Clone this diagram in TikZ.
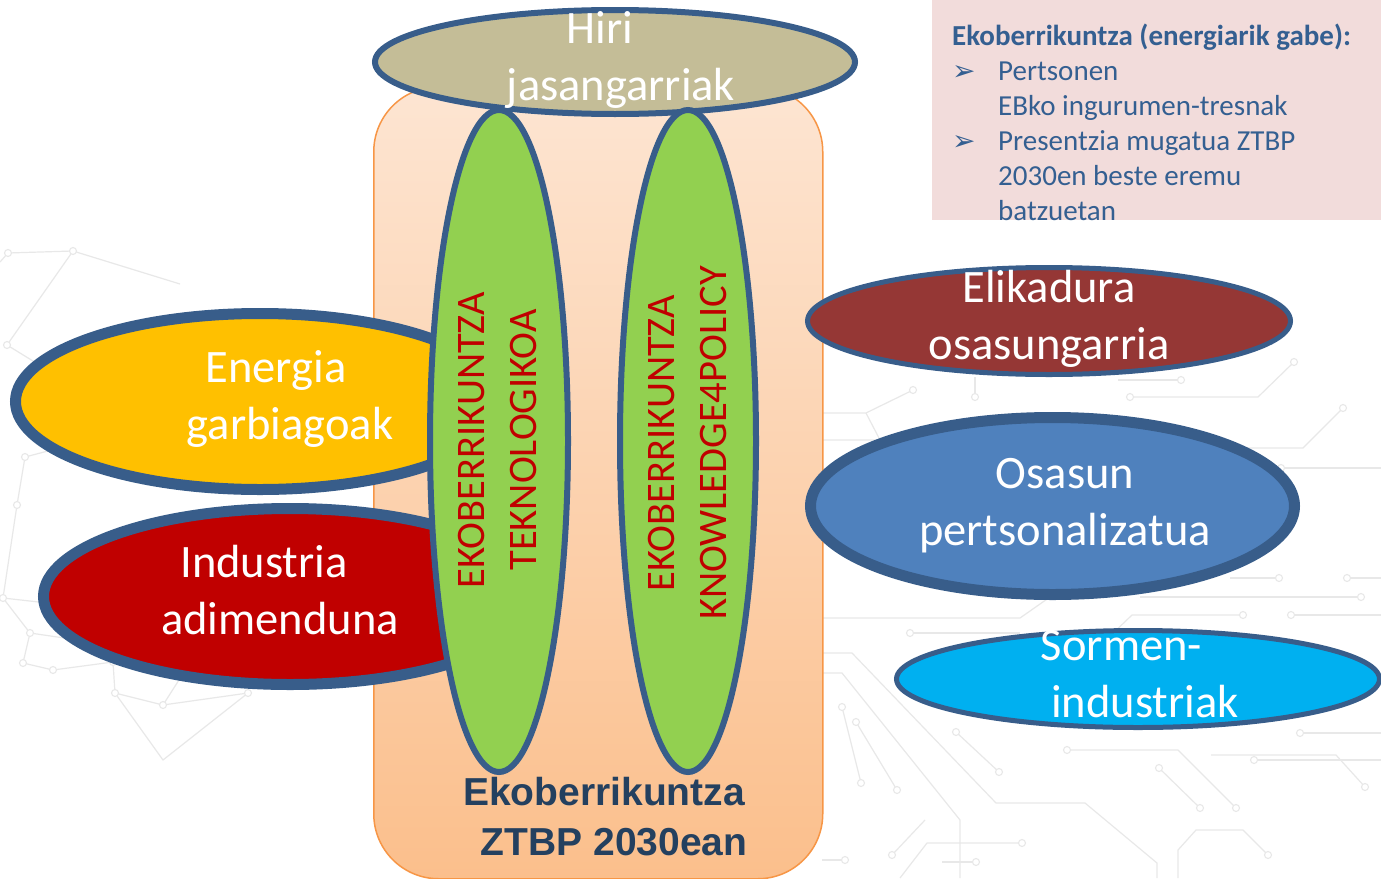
\documentclass[tikz,border=0pt]{standalone}
\usepackage{fontspec}
\setmainfont{Carlito}
\newfontfamily\arialfont{Liberation Sans}
\newfontfamily\dejavufont{DejaVu Sans}
\usetikzlibrary{shapes.geometric}
\definecolor{edgeblue}{HTML}{385D8A}
\definecolor{hiricol}{HTML}{C4BD97}
\definecolor{energiacol}{HTML}{FFC000}
\definecolor{industriacol}{HTML}{C00000}
\definecolor{elikacol}{HTML}{953735}
\definecolor{osasuncol}{HTML}{4F81BD}
\definecolor{sormencol}{HTML}{00B0F0}
\definecolor{greencol}{HTML}{92D050}
\definecolor{redtext}{HTML}{C00000}
\definecolor{pinkbox}{HTML}{F2DCDB}
\definecolor{boxblue}{HTML}{345F91}
\definecolor{bottomblue}{HTML}{24405F}
\definecolor{frametop}{HTML}{FDE5D2}
\definecolor{framebot}{HTML}{FBBF8C}
\definecolor{frameedge}{HTML}{F79646}
\definecolor{bggray}{HTML}{E8E8E8}
\newcommand{\twoline}[2]{\begin{tabular}[t]{@{}c@{}}#1\\#2\end{tabular}}
\begin{document}
\begin{tikzpicture}[x=1pt,y=-1pt,
  bgl/.style={draw=bggray, line width=1.2pt, line join=round},
  bgc/.style={draw=bggray, line width=1.1pt, fill=white},
  blob/.style={ellipse, draw=edgeblue, inner sep=0pt, outer sep=0pt},
  lbl/.style={anchor=base, inner sep=0pt, text=white, font=\fontsize{46.5}{57.5}\selectfont},
  rot/.style={rotate=90, anchor=base, inner sep=0pt, text=redtext, font=\fontsize{40.5}{52.5}\selectfont},
  boxtxt/.style={anchor=base west, inner sep=0pt, text=boxblue, font=\fontsize{29}{35}\selectfont},
  bullet/.style={anchor=base west, inner sep=0pt, text=boxblue, font=\dejavufont\fontsize{28}{28}\selectfont}]
\useasboundingbox (0,0) rectangle (1381,878);
\fill[white] (0,0) rectangle (1381,878);

% ---------- faint background network (left) ----------
\draw[bgl] (0,262)--(8,253)--(73,251)--(180,284);
\draw[bgl] (73,251)--(7,345);
\draw[bgl] (7,345)--(140,427)--(25,457)--(17,505)--(3,598)--(172,617)--(200,647)--(213,662)--(247,652)--(248,693)--(163,705)--(115,693)--(113,662)--(53,670)--(23,663)--(30,633)--(78,640)--(172,617);
\draw[bgl] (172,617)--(238,623)--(287,623)--(280,613)--(300,580);
\draw[bgl] (200,647)--(163,705);
\draw[bgl] (78,640)--(113,662);
\draw[bgl] (3,598)--(30,633);
\draw[bgl] (115,693)--(163,760)--(248,693);
\draw[bgl] (238,623)--(213,662);
\draw[bgl] (343,680)--(373,680);
\draw[bgl] (350,627)--(373,640);
\foreach \p in {(8,253),(73,251),(7,345),(25,457),(17,505),(3,598),(172,617),(200,647),(213,662),(247,652),(248,693),(163,705),(115,693),(113,662),(53,670),(23,663),(30,633),(78,640),(238,623),(287,623),(280,613),(300,580),(343,680),(350,627)}
  \draw[bgc] \p circle[radius=3.5];

% ---------- faint background circuit (right) ----------
\draw[bgl] (1294,362)--(1258,397)--(1130,397);
\draw[bgl] (1343,408)--(1303,448)--(1205,448);
\draw[bgl] (1281,468)--(1381,468);
\draw[bgl] (1181,380)--(1118,380);
\draw[bgl] (822,413)--(866,413)--(913,390);
\draw[bgl] (975,397)--(975,377);
\draw[bgl] (866,413)--(880,440)--(822,440);
\draw[bgl] (1230,578)--(1279,578);
\draw[bgl] (1347,578)--(1381,578);
\draw[bgl] (1140,597)--(1361,597);
\draw[bgl] (1243,615)--(1132,615)--(1085,660);
\draw[bgl] (1291,615)--(1381,615);
\draw[bgl] (910,633)--(1020,633);
\draw[bgl] (822,618)--(1020,618)--(1060,590);
\draw[bgl] (822,653)--(852,653)--(996,803)--(1085,803)--(1157,863)--(1157,878);
\draw[bgl] (822,673)--(842,673)--(960,820)--(960,878);
\draw[bgl] (999,772)--(956,732);
\draw[bgl] (897,790)--(856,722);
\draw[bgl] (861,783)--(842,707);
\draw[bgl] (1200,808)--(1159,768);
\draw[bgl] (1236,808)--(1178,750)--(1067,750);
\draw[bgl] (1211,755)--(1336,755)--(1365,787);
\draw[bgl] (1022,843)--(927,843)--(900,878);
\draw[bgl] (976,862)--(942,862);
\draw[bgl] (1268,855)--(1243,830)--(1196,830)--(1178,850)--(1178,878);
\draw[bgl] (1300,733)--(1381,733);
\draw[bgl] (1254,760)--(1381,760);
\draw[bgl] (822,860)--(845,860);
\draw[bgl] (892,855)--(925,820);
\foreach \p in {(1294,362),(1130,397),(1343,408),(1281,468),(1181,380),(913,390),(975,397),(1279,578),(1347,578),(1361,597),(1243,615),(1291,615),(910,633),(999,772),(956,732),(897,790),(856,722),(861,783),(842,707),(1200,808),(1159,768),(1236,808),(1067,750),(1365,787),(1022,843),(976,862),(1268,855),(892,855),(1300,733),(1254,760),(845,860)}
  \draw[bgc] \p circle[radius=3.5];

% ---------- info box ----------
\node[fill=pinkbox, minimum width=449pt, minimum height=220pt, anchor=north west, inner sep=0pt] (infobox) at (932,0) {};
\node[boxtxt, font=\bfseries\fontsize{29}{35}\selectfont] (boxtitle) at (952,45) {Ekoberrikuntza (energiarik gabe):};
\node[bullet] (bul1) at (952,80) {➢};
\node[boxtxt] (l1) at (998,80) {Pertsonen};
\node[boxtxt] (l2) at (998,115) {EBko ingurumen-tresnak};
\node[bullet] (bul2) at (952,150) {➢};
\node[boxtxt] (l3) at (998,150) {Presentzia mugatua ZTBP};
\node[boxtxt] (l4) at (998,185) {2030en beste eremu};
\node[boxtxt] (l5) at (998,220) {batzuetan};

% ---------- central frame ----------
\node[draw=frameedge, line width=1.5pt, rounded corners=65pt, top color=frametop, bottom color=framebot,
      minimum width=449pt, minimum height=792pt, anchor=north west, inner sep=0pt] (frame) at (373,86) {};

% ---------- ellipses ----------
\node[blob, line width=6pt, fill=hiricol, minimum width=480pt, minimum height=104pt] (hiri) at (615,62) {};
\node[blob, line width=11pt, fill=energiacol, minimum width=489pt, minimum height=176pt] (energia) at (260,401.5) {};
\node[blob, line width=11pt, fill=industriacol, minimum width=493pt, minimum height=176pt] (industria) at (290,596.5) {};
\node[blob, line width=5pt, fill=elikacol, minimum width=483pt, minimum height=107pt] (elika) at (1049,321) {};
\node[blob, line width=11pt, fill=osasuncol, minimum width=484pt, minimum height=177pt] (osasun) at (1052.5,506) {};
\node[blob, line width=5pt, fill=sormencol, minimum width=483pt, minimum height=97pt] (sormen) at (1138,679) {};
\node[blob, line width=6pt, fill=greencol, minimum width=138pt, minimum height=662pt] (greenL) at (499,441) {};
\node[blob, line width=6pt, fill=greencol, minimum width=136pt, minimum height=662pt] (greenR) at (688,441) {};

% ---------- labels ----------
\node[lbl] (hiritxt) at (621,43) {\twoline{Hiri\hspace*{42pt}}{jasangarriak}};
\node[lbl] (energiatxt) at (290,382) {\twoline{Energia\hspace*{28pt}}{garbiagoak}};
\node[lbl] (industriatxt) at (280,577) {\twoline{Industria\hspace*{32pt}}{adimenduna}};
\node[lbl] (elikatxt) at (1049,302) {\twoline{Elikadura}{osasungarria}};
\node[lbl] (osasuntxt) at (1065,488) {\twoline{Osasun}{pertsonalizatua}};
\node[lbl] (sormentxt) at (1145,660) {\twoline{Sormen-\hspace*{47pt}}{industriak}};

\node[rot] (teknotxt) at (484,440) {\twoline{EKOBERRIKUNTZA}{TEKNOLOGIKOA}};
\node[rot] (k4ptxt) at (674,443) {\twoline{EKOBERRIKUNTZA}{KNOWLEDGE4POLICY}};

\node[anchor=base, inner sep=0pt, text=bottomblue, font=\arialfont\bfseries\fontsize{39}{50}\selectfont] (ztbptxt) at (614,805)
  {\twoline{Ekoberrikuntza\hspace*{20pt}}{ZTBP 2030ean}};
\end{tikzpicture}
\end{document}
